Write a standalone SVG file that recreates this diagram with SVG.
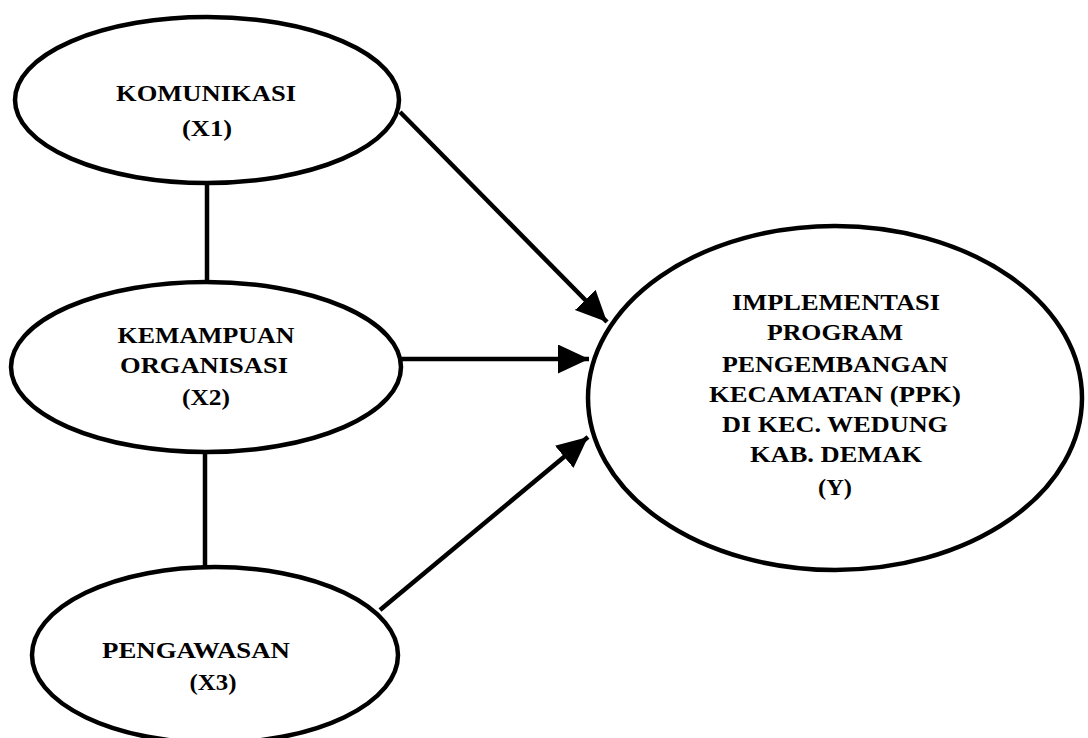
<svg xmlns="http://www.w3.org/2000/svg" width="1088" height="738" viewBox="0 0 1088 738">
<style>
  .node ellipse { fill: #ffffff; stroke: #000000; stroke-width: 4.5; }
  .node text { font-family: "Liberation Serif", "Times New Roman", serif; font-weight: bold; font-size: 23px; fill: #000000; text-anchor: middle; }
  .conn line { stroke: #000000; stroke-width: 4.5; fill: none; }
</style>
<defs>
  <marker id="arrow" markerUnits="userSpaceOnUse" markerWidth="32" markerHeight="30" refX="31" refY="14.5" orient="auto">
    <path d="M0,0 L31,14.5 L0,29 z" fill="#000000"/>
  </marker>
</defs>
<rect x="0" y="0" width="1088" height="738" fill="#ffffff"/>
<g id="connectors" class="conn">
  <line x1="207" y1="184" x2="207" y2="282"/>
  <line x1="205" y1="452" x2="205" y2="567"/>
  <line x1="400" y1="112" x2="607" y2="322" marker-end="url(#arrow)"/>
  <line x1="402" y1="359" x2="589" y2="359" marker-end="url(#arrow)"/>
  <line x1="380" y1="610" x2="588" y2="437" marker-end="url(#arrow)"/>
</g>
<g id="node-x1" class="node">
  <ellipse cx="207" cy="100" rx="192" ry="83"/>
  <text x="206" y="101" textLength="180" lengthAdjust="spacingAndGlyphs">KOMUNIKASI</text>
  <text x="207" y="136" textLength="50" lengthAdjust="spacingAndGlyphs">(X1)</text>
</g>
<g id="node-x2" class="node">
  <ellipse cx="206" cy="367" rx="195" ry="85"/>
  <text x="206" y="343" textLength="177" lengthAdjust="spacingAndGlyphs">KEMAMPUAN</text>
  <text x="204" y="373" textLength="168" lengthAdjust="spacingAndGlyphs">ORGANISASI</text>
  <text x="206" y="405" textLength="48" lengthAdjust="spacingAndGlyphs">(X2)</text>
</g>
<g id="node-x3" class="node">
  <ellipse cx="215" cy="655" rx="183" ry="88"/>
  <text x="196" y="658" textLength="188" lengthAdjust="spacingAndGlyphs">PENGAWASAN</text>
  <text x="213" y="690" textLength="47" lengthAdjust="spacingAndGlyphs">(X3)</text>
</g>
<g id="node-y" class="node">
  <ellipse cx="835" cy="398" rx="247" ry="172"/>
  <text x="836" y="310" textLength="208" lengthAdjust="spacingAndGlyphs">IMPLEMENTASI</text>
  <text x="835" y="340" textLength="136" lengthAdjust="spacingAndGlyphs">PROGRAM</text>
  <text x="835" y="372" textLength="226" lengthAdjust="spacingAndGlyphs">PENGEMBANGAN</text>
  <text x="835" y="402" textLength="252" lengthAdjust="spacingAndGlyphs">KECAMATAN (PPK)</text>
  <text x="835" y="432" textLength="226" lengthAdjust="spacingAndGlyphs">DI KEC. WEDUNG</text>
  <text x="836" y="462" textLength="172" lengthAdjust="spacingAndGlyphs">KAB. DEMAK</text>
  <text x="835" y="495" textLength="34" lengthAdjust="spacingAndGlyphs">(Y)</text>
</g>
</svg>
